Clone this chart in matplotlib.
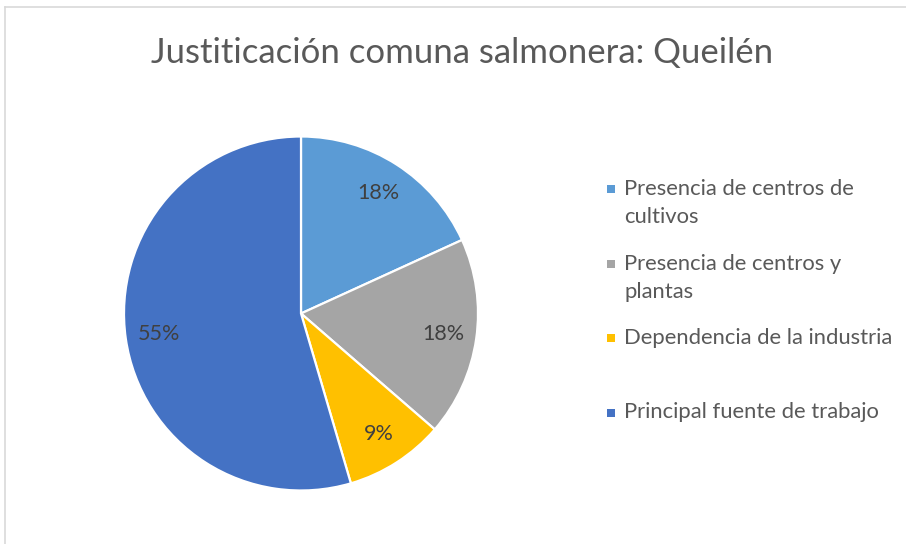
import matplotlib.pyplot as plt
from matplotlib.lines import Line2D
from matplotlib.patches import Rectangle

plt.rcParams['font.family'] = ['Lato', 'DejaVu Sans']

titulo = 'Justiticación comuna salmonera: Queilén'
categorias = ['Presencia de centros de\ncultivos',
              'Presencia de centros y\nplantas',
              'Dependencia de la industria',
              'Principal fuente de trabajo']
valores = [2, 2, 1, 6]
colores = ['#5B9BD5', '#A5A5A5', '#FFC000', '#4472C4']

W, H = 906, 544
fig = plt.figure(figsize=(W / 100, H / 100), dpi=100)

# marco gris del area del grafico
fig.add_artist(Line2D([5 / W, 5 / W], [0, 1 - 7 / H], color='#D9D9D9', lw=1.2))
fig.add_artist(Line2D([5 / W, 1], [1 - 7 / H, 1 - 7 / H], color='#D9D9D9', lw=1.2))

fig.text(462 / W, 1 - 53 / H, titulo, ha='center', va='center',
         fontsize=25, color='#595959')

# pie
cx, cy, r = 301, 313.5, 177
ax = fig.add_axes([(cx - r) / W, 1 - (cy + r) / H, 2 * r / W, 2 * r / H])
wedges, _, autotexts = ax.pie(valores, colors=colores, startangle=90, counterclock=False,
                              autopct='%1.0f%%', pctdistance=0.81,
                              wedgeprops=dict(edgecolor='white', linewidth=1.6),
                              textprops=dict(fontsize=15.5, color='#404040'))
for w in wedges:
    w.set_clip_on(False)
ax.set_xlim(-1, 1)
ax.set_ylim(-1, 1)
ax.set_aspect('equal')

# leyenda
y0, paso = 189, 74.5
for i, (lab, col) in enumerate(zip(categorias, colores)):
    y = y0 + i * paso
    fig.add_artist(Rectangle(((611 - 4) / W, 1 - (y + 4) / H), 8 / W, 8 / H,
                             facecolor=col, edgecolor='none'))
    fig.text(624 / W, 1 - (y - 10) / H, lab, ha='left', va='top',
             fontsize=15.8, color='#595959', linespacing=1.5)

fig.savefig('out.png', dpi=100)
